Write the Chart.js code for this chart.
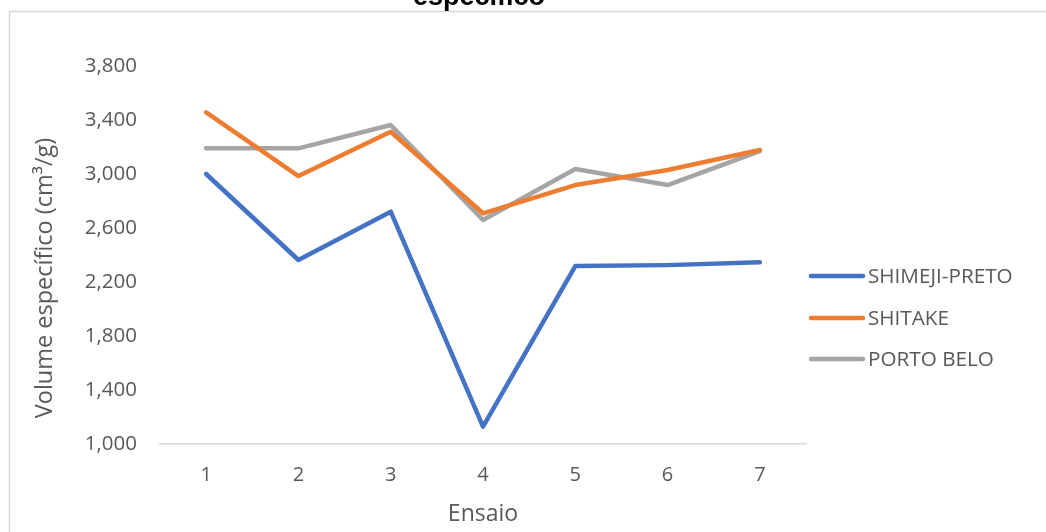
<!DOCTYPE html>
<html>
<head>
<meta charset="utf-8">
<script src="https://cdn.jsdelivr.net/npm/chart.js@4/dist/chart.umd.min.js"></script>
<style>
  html, body { margin: 0; padding: 0; background: #ffffff; }
  #wrap { position: relative; width: 1046px; height: 532px; }
</style>
</head>
<body>
<div id="wrap"><canvas id="c" width="1046" height="532"></canvas></div>
<script>
const categories = ['1', '2', '3', '4', '5', '6', '7'];
const seriesNames = ['SHIMEJI-PRETO', 'SHITAKE', 'PORTO BELO'];
const shimejiPreto = [3000, 2363, 2721, 1128, 2318, 2325, 2346];
const shitake = [3457, 2985, 3313, 2709, 2918, 3030, 3178];
const portoBelo = [3190, 3190, 3363, 2659, 3037, 2918, 3170];
const yMin = 1000, yMax = 3800, yStep = 400;
const chartTitle = 'específico';
const yTitle = 'Volume específico (cm³/g)';
const xTitle = 'Ensaio';

const colors = ['#4472C4', '#ED7D31', '#A5A5A5'];
const FONT = "'Open Sans', sans-serif";

const framePlugin = {
  id: 'frame',
  beforeDraw(chart) {
    const ctx = chart.ctx;
    ctx.save();
    ctx.fillStyle = '#ffffff';
    ctx.fillRect(0, 0, chart.width, chart.height);
    ctx.strokeStyle = '#d9d9d9';
    ctx.lineWidth = 1.5;
    ctx.beginPath();
    ctx.moveTo(9.5, chart.height);
    ctx.lineTo(9.5, 11.5);
    ctx.lineTo(chart.width, 11.5);
    ctx.stroke();
    ctx.fillStyle = '#000000';
    ctx.font = "bold 27px 'Liberation Sans', Arial, sans-serif";
    ctx.textAlign = 'center';
    ctx.textBaseline = 'alphabetic';
    ctx.fillText(chartTitle, 479, 5);
    // y axis title
    ctx.translate(45, 278);
    ctx.rotate(-Math.PI / 2);
    ctx.fillStyle = '#595959';
    ctx.font = "23.5px " + FONT;
    ctx.textBaseline = 'middle';
    ctx.fillText(yTitle, 0, 0);
    ctx.restore();
  }
};

const legendPlugin = {
  id: 'customLegend',
  afterDraw(chart) {
    const ctx = chart.ctx;
    ctx.save();
    const ys = [276, 318, 359];
    chart.data.datasets.forEach((ds, i) => {
      const y = ys[i];
      ctx.strokeStyle = ds.borderColor;
      ctx.lineWidth = 4.5;
      ctx.lineCap = 'round';
      ctx.beginPath();
      ctx.moveTo(811, y);
      ctx.lineTo(863, y);
      ctx.stroke();
      ctx.fillStyle = '#595959';
      ctx.font = "20.7px " + FONT;
      ctx.textAlign = 'left';
      ctx.textBaseline = 'middle';
      ctx.fillText(ds.label, 868, y + 1);
    });
    ctx.restore();
  }
};

const datasetValues = [shimejiPreto, shitake, portoBelo];

new Chart(document.getElementById('c'), {
  type: 'line',
  data: {
    labels: categories,
    datasets: seriesNames.map((name, i) => ({
      label: name,
      data: datasetValues[i],
      borderColor: colors[i],
      backgroundColor: colors[i],
      borderWidth: 4.5,
      pointRadius: 0,
      pointHoverRadius: 0,
      tension: 0,
      fill: false,
      borderCapStyle: 'round',
      borderJoinStyle: 'round'
    }))
  },
  options: {
    responsive: false,
    animation: false,
    devicePixelRatio: 1,
    layout: { padding: { left: 0, right: 240, top: 66, bottom: 0 } },
    plugins: {
      legend: { display: false },
      title: { display: false },
      tooltip: { enabled: false }
    },
    scales: {
      x: {
        type: 'category',
        offset: true,
        grid: { display: false, drawTicks: false },
        border: { display: true, color: '#d9d9d9', width: 1.5 },
        ticks: { color: '#595959', font: { family: FONT, size: 20 }, padding: 19 },
        title: { display: true, text: xTitle, color: '#595959', font: { family: FONT, size: 23 }, padding: { top: 0, bottom: 4 } },
        afterFit(scale) { scale.height = 88; }
      },
      y: {
        min: yMin,
        max: yMax,
        grid: { display: false, drawTicks: false },
        border: { display: false },
        ticks: {
          stepSize: yStep,
          color: '#595959',
          font: { family: FONT, size: 20.5 },
          padding: 23,
          callback: (v) => v.toLocaleString('en-US')
        },
        title: { display: false },
        afterFit(scale) { scale.width = 160; }
      }
    }
  },
  plugins: [framePlugin, legendPlugin]
});
</script>
</body>
</html>
